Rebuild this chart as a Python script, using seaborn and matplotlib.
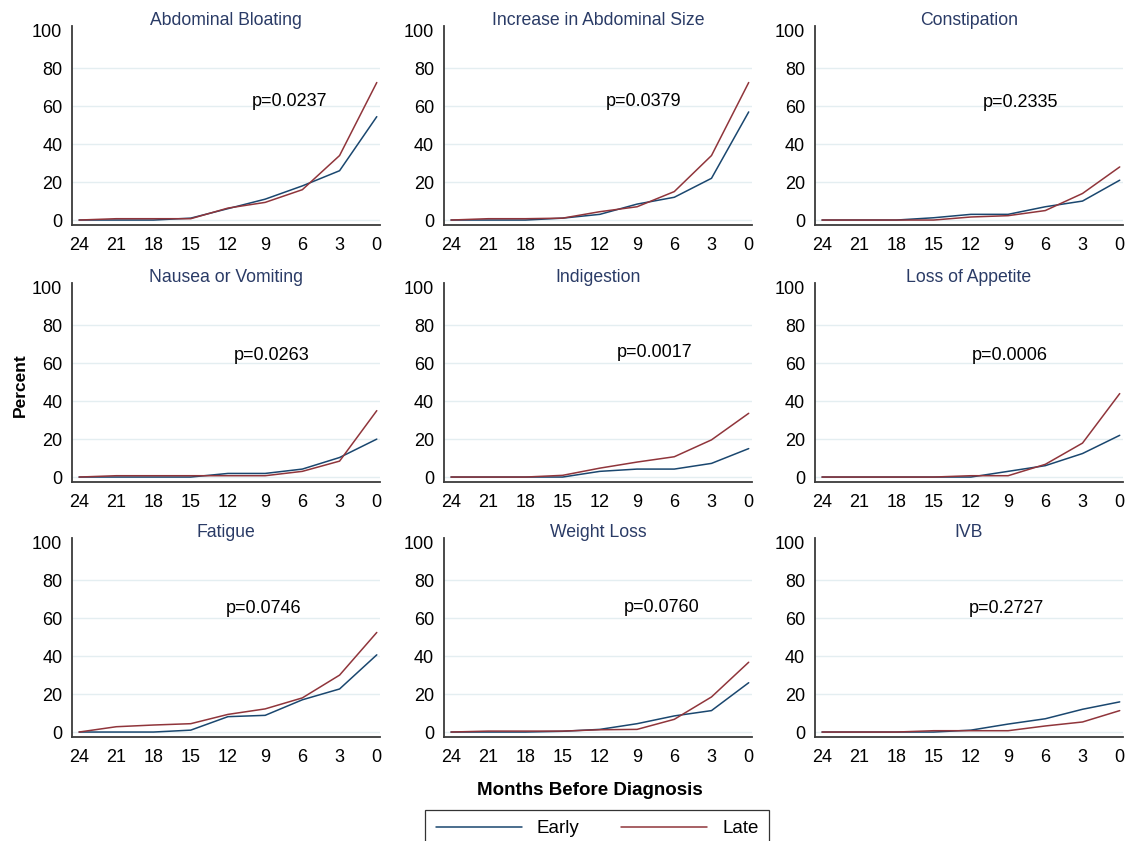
import matplotlib
matplotlib.use("Agg")
import matplotlib.pyplot as plt
import seaborn as sns
import pandas as pd
from matplotlib.lines import Line2D

# Months before diagnosis (x axis runs from 24 down to 0)
months = [24, 21, 18, 15, 12, 9, 6, 3, 0]

symptoms = [
    "Abdominal Bloating", "Increase in Abdominal Size", "Constipation",
    "Nausea or Vomiting", "Indigestion", "Loss of Appetite",
    "Fatigue", "Weight Loss", "IVB",
]

p_values = ["p=0.0237", "p=0.0379", "p=0.2335",
            "p=0.0263", "p=0.0017", "p=0.0006",
            "p=0.0746", "p=0.0760", "p=0.2727"]

# Percent of patients reporting each symptom, early-stage group
early_bloating = [0, 0, 0, 1, 6, 11, 18, 26, 54.5]
early_abd_size = [0, 0, 0, 1, 3, 8.4, 12, 22, 57]
early_constipation = [0, 0, 0, 1.2, 3, 3, 7, 10, 21]
early_nausea = [0, 0, 0, 0, 1.9, 1.9, 4.2, 10.3, 20]
early_indigestion = [0, 0, 0, 0, 3, 4.2, 4.2, 7.2, 15]
early_appetite = [0, 0, 0, 0, 0, 3, 6, 12.4, 22]
early_fatigue = [0, 0, 0, 1, 8.1, 8.8, 17, 22.7, 40.7]
early_weight = [0, 0, 0, 0.4, 1.4, 4.4, 8.5, 11.3, 26]
early_ivb = [0, 0, 0, 0, 1, 4.2, 7, 12, 15.9]

# Percent of patients reporting each symptom, late-stage group
late_bloating = [0, 0.7, 0.7, 0.7, 6.3, 9.3, 16, 34, 72.5]
late_abd_size = [0, 0.7, 0.7, 1, 4.4, 7, 15, 34, 72.5]
late_constipation = [0, 0, 0, 0, 1.6, 2.3, 5, 14, 28]
late_nausea = [0, 0.7, 0.7, 0.7, 0.7, 0.7, 3, 8.4, 35]
late_indigestion = [0, 0, 0, 0.9, 4.7, 7.9, 10.7, 19.6, 33.6]
late_appetite = [0, 0, 0, 0, 0.7, 0.7, 6.7, 17.9, 44]
late_fatigue = [0, 2.8, 3.7, 4.4, 9.3, 12.2, 18, 30, 52.5]
late_weight = [0, 0.5, 0.5, 0.5, 1.2, 1.4, 6.7, 18.5, 36.8]
late_ivb = [0, 0, 0, 0.7, 0.7, 0.7, 3.2, 5.3, 11.3]

early_series = [early_bloating, early_abd_size, early_constipation,
                early_nausea, early_indigestion, early_appetite,
                early_fatigue, early_weight, early_ivb]
late_series = [late_bloating, late_abd_size, late_constipation,
               late_nausea, late_indigestion, late_appetite,
               late_fatigue, late_weight, late_ivb]

y_ticks = [0, 20, 40, 60, 80, 100]

# Long-form table for seaborn
rows = []
for name, e, l in zip(symptoms, early_series, late_series):
    for m, ve, vl in zip(months, e, l):
        rows.append({"symptom": name, "month": m, "group": "Early", "pct": ve})
        rows.append({"symptom": name, "month": m, "group": "Late", "pct": vl})
df = pd.DataFrame(rows)

sns.set_style("white")
plt.rcParams["font.family"] = ["Liberation Sans", "DejaVu Sans"]
plt.rcParams["text.color"] = "black"

palette = {"Early": "#1a476f", "Late": "#90353b"}
title_color = "#2a3b66"
spine_color = "#3a3a3a"

fig = plt.figure(figsize=(11.36, 8.41), dpi=100)

lefts = [0.0634, 0.3908, 0.7174]
bottoms = [0.7325, 0.4269, 0.1237]
width, height = 0.271, 0.2366

# p-value text anchors (month, percent) per panel
p_pos = [(10.1, 62.4), (11.5, 62.4), (11.0, 62.0),
         (11.5, 64.0), (10.6, 65.4), (11.9, 64.0),
         (12.2, 65.3), (10.1, 65.8), (12.2, 65.3)]

for i, name in enumerate(symptoms):
    r, c = divmod(i, 3)
    ax = fig.add_axes([lefts[c], bottoms[r], width, height])
    sub = df[df["symptom"] == name]
    sns.lineplot(data=sub, x="month", y="pct", hue="group", palette=palette,
                 linewidth=1.1, legend=False, ax=ax)
    ax.set_xlim(24.57, -0.25)
    ax.set_ylim(-2.6, 102.3)
    ax.set_xticks(months)
    ax.set_xticklabels([str(m) for m in months])
    ax.set_yticks(y_ticks)
    ax.set_yticklabels([str(t) for t in y_ticks])
    ax.set_xlabel("")
    ax.set_ylabel("")
    ax.grid(axis="y", color="#e4eef1", linewidth=1.0)
    ax.get_ygridlines()[-1].set_visible(False)
    ax.set_axisbelow(True)
    for side in ("top", "right"):
        ax.spines[side].set_visible(False)
    for side in ("left", "bottom"):
        ax.spines[side].set_color(spine_color)
        ax.spines[side].set_linewidth(1.3)
    ax.tick_params(axis="both", which="major", direction="out", length=5,
                   width=1.0, color=spine_color, labelsize=13, labelcolor="black")
    ax.tick_params(axis="y", pad=2)
    ax.tick_params(axis="x", pad=3.5)
    ax.set_title(name, fontsize=12.7, color=title_color, pad=0.5)
    px, py = p_pos[i]
    ax.text(px, py, p_values[i], fontsize=13, ha="left", va="center",
            color="black")

fig.text(0.0176, 0.542, "Percent", rotation=90, ha="center", va="center",
         fontsize=12.5, fontweight="bold", color="black")
fig.text(0.519, 0.0595, "Months Before Diagnosis", ha="center", va="center",
         fontsize=13.5, fontweight="bold", color="black")

handles = [Line2D([], [], color=palette["Early"], linewidth=1.1),
           Line2D([], [], color=palette["Late"], linewidth=1.1)]
leg = fig.legend(handles, ["Early", "Late"], loc="upper center",
                 bbox_to_anchor=(0.5255, 0.0369), ncol=2, fontsize=13.5,
                 frameon=True, fancybox=False, edgecolor="black",
                 handlelength=4.6, handletextpad=0.8, columnspacing=2.2,
                 borderpad=0.55, borderaxespad=0)
leg.get_frame().set_linewidth(0.9)
for t in leg.get_texts():
    t.set_color("black")

fig.savefig("out.png", dpi=100, facecolor="white")
